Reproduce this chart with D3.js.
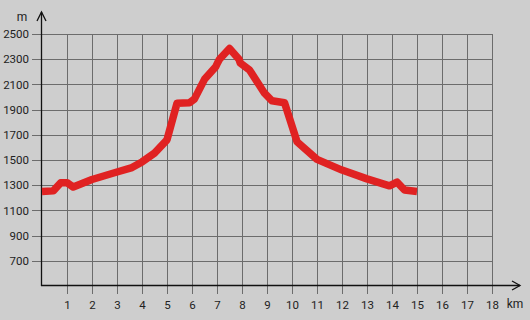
<!DOCTYPE html>
<meta charset="utf-8">
<style>
body { margin: 0; background: #cecece; }
svg { display: block; background: #cecece; }
.grid text { font: 11.5px Roboto, sans-serif; fill: #222; }
.grid line { stroke: #6c6c6c; stroke-width: 1; shape-rendering: crispEdges; }
.grid path { display: none; }
.profile { fill: none; stroke: #e02222; stroke-width: 7.5; stroke-linejoin: round; stroke-linecap: butt; }
</style>
<body>
<div id="chart"></div>
<script src="https://d3js.org/d3.v7.min.js"></script>
<script>
// distance (km) and elevation (m)
var km =   [0, 0.45, 0.75, 1.0, 1.25, 2.0, 3.0, 3.6, 4.0, 4.5, 5.0, 5.4, 5.9, 6.1, 6.5, 6.95, 7.02, 7.1, 7.5, 7.88, 7.93, 8.3, 8.9, 9.2, 9.7, 10.2, 11.0, 12.0, 13.0, 13.9, 14.2, 14.5, 15.0];
var elev = [1250, 1255, 1320, 1320, 1285, 1345, 1405, 1440, 1485, 1555, 1660, 1950, 1955, 1985, 2140, 2240, 2270, 2300, 2385, 2300, 2270, 2215, 2030, 1970, 1955, 1645, 1505, 1420, 1350, 1295, 1325, 1262, 1250];
var xTicks = [1, 2, 3, 4, 5, 6, 7, 8, 9, 10, 11, 12, 13, 14, 15, 16, 17, 18];
var yTicks = [700, 900, 1100, 1300, 1500, 1700, 1900, 2100, 2300, 2500];

var width = 530, height = 320;
var svg = d3.select("#chart").append("svg")
    .attr("width", width)
    .attr("height", height);

var x = d3.scaleLinear().domain([0, 18]).range([42, 492]),
    y = d3.scaleLinear().domain([500, 2500]).range([286, 34]);

// horizontal grid + y labels
var yAxis = svg.append("g")
    .attr("class", "grid")
    .attr("transform", "translate(" + x(0) + ",0)")
    .call(d3.axisLeft(y).tickValues(yTicks).tickSize(-(x(18) - x(0))).tickPadding(13).tickFormat(d3.format("d")));
yAxis.selectAll(".tick line").attr("x1", -10);

// vertical grid + x labels
var xAxis = svg.append("g")
    .attr("class", "grid")
    .attr("transform", "translate(0," + y(500) + ")")
    .call(d3.axisBottom(x).tickValues(xTicks).tickSize(-(y(500) - y(2500))).tickPadding(15));
xAxis.selectAll(".tick line").attr("y1", 8);

// axes with arrows
var ax = svg.append("g").attr("stroke", "#111").attr("stroke-width", 1.3).attr("fill", "none");
ax.append("line").attr("x1", x(0) - 0.5).attr("x2", x(0) - 0.5).attr("y1", y(500)).attr("y2", 12);
ax.append("path").attr("d", "M" + (x(0) - 5) + ",21L" + (x(0) - 0.5) + ",12L" + (x(0) + 4) + ",21");
ax.append("line").attr("x1", x(0) - 1).attr("x2", 520).attr("y1", y(500) - 0.5).attr("y2", y(500) - 0.5);
ax.append("path").attr("d", "M512," + (y(500) - 5) + "L520," + (y(500) - 0.5) + "L512," + (y(500) + 4));

svg.append("text").attr("x", 22).attr("y", 21).attr("text-anchor", "middle")
    .style("font", "12px Roboto, sans-serif").attr("fill", "#222").text("m");
svg.append("text").attr("x", 515).attr("y", 308).attr("text-anchor", "middle")
    .style("font", "12px Roboto, sans-serif").attr("fill", "#222").text("km");

// elevation profile
var line = d3.line()
    .x(function(d, i) { return x(km[i]); })
    .y(function(d) { return y(d); });

svg.append("path")
    .datum(elev)
    .attr("class", "profile")
    .attr("d", line);
</script>
</body>
